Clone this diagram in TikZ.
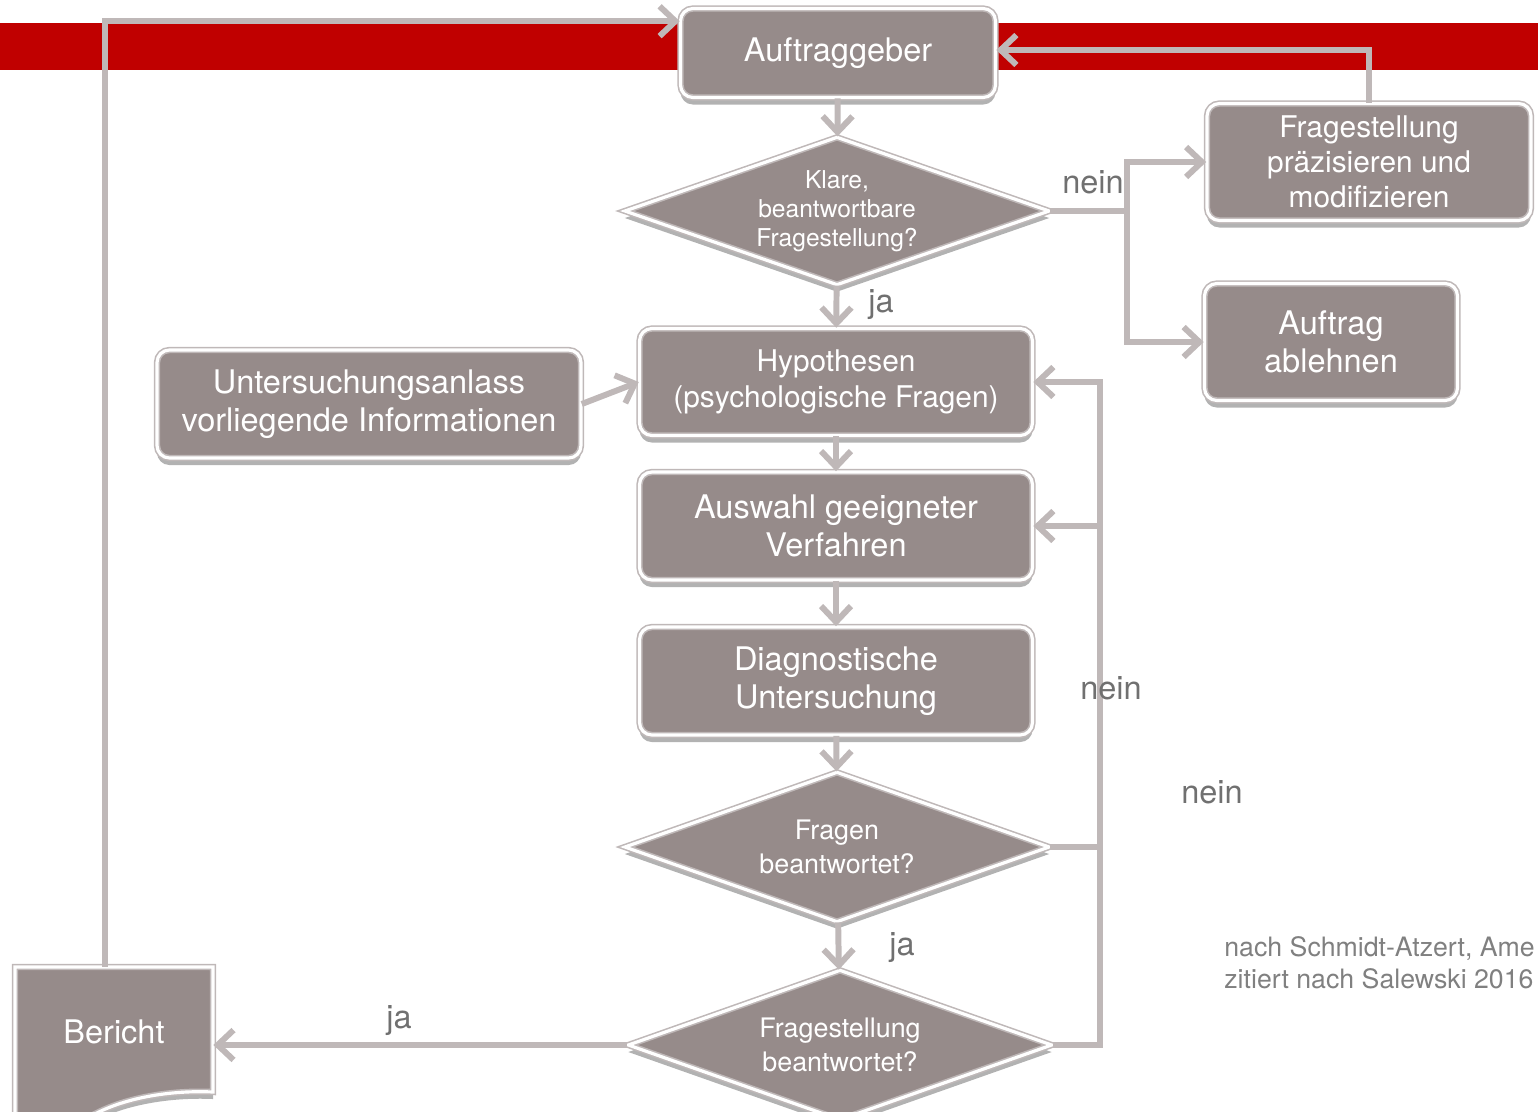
\documentclass[tikz,border=0pt]{standalone}
\usepackage{fontspec}
\setmainfont{TeX Gyre Heros}
\usetikzlibrary{shapes.geometric,arrows.meta,shadows}
\definecolor{barred}{RGB}{192,0,0}
\definecolor{boxfill}{RGB}{150,139,138}
\definecolor{linegray}{RGB}{191,184,184}
\definecolor{labelgray}{RGB}{112,112,112}
\definecolor{citegray}{RGB}{128,128,128}
\tikzset{
boxline/.style={
	draw=linegray, line width=0.9pt, double=white, double distance=1.8pt,
	fill=boxfill, drop shadow={shadow xshift=0pt, shadow yshift=-4pt,
	opacity=0.3, fill=black}},
box/.style={
	boxline, rounded corners=7pt, text=white, align=center, inner sep=2pt,
	font=\fontsize{18.5}{21.5}\selectfont},
decision/.style={box, diamond, aspect=2.87, rounded corners=0pt, inner sep=0pt},
flow/.style={draw=linegray, line width=3.4pt,
	-{Straight Barb[length=9pt,width=17pt]}},
lbl/.style={text=labelgray, inner sep=0pt, font=\fontsize{18.5}{21}\selectfont}
}

\begin{document}
\begin{tikzpicture}[x=0.02cm, y=-0.02cm]
	\useasboundingbox (0,0) rectangle (1538,1112);
	\fill[barred] (0,23) rectangle (1538,70);
	% Dokument unten links
	\draw[boxline] (15,967) -- (213,967) -- (213,1092)
		.. controls (170,1090) and (125,1098) .. (95,1114)
		-- (95,1130) -- (15,1130) -- cycle;
	\node[text=white, font=\fontsize{18.5}{21.5}\selectfont,
		minimum width=3.96cm, minimum height=2.6cm] (bericht) at (114,1032) {Bericht};

	\node[box, minimum width=6.3cm, minimum height=1.78cm] (auftrag) at (838,53) {Auftraggeber};
	\node[decision, minimum width=8.5cm, minimum height=2.96cm,
		font=\fontsize{14}{16.5}\selectfont] (klare) at (837,211) {Klare,\\beantwortbare\\Fragestellung?};
	\node[box, minimum width=6.48cm, minimum height=2.34cm,
		font=\fontsize{17}{19.8}\selectfont] (praez) at (1369,162) {Fragestellung\\präzisieren und\\modifizieren};
	\node[box, minimum width=5.06cm, minimum height=2.34cm] (ablehnen) at (1331,342) {Auftrag\\ablehnen};
	\node[box, minimum width=7.86cm, minimum height=2.14cm,
		font=\fontsize{17}{20.3}\selectfont] (hypo) at (836,382) {Hypothesen\\(psychologische Fragen)};
	\node[box, minimum width=8.48cm, minimum height=2.16cm] (anlass) at (369,404) {Untersuchungsanlass\\vorliegende Informationen};
	\node[box, minimum width=7.86cm, minimum height=2.16cm] (auswahl) at (836,526) {Auswahl geeigneter\\Verfahren};
	\node[box, minimum width=7.86cm, minimum height=2.16cm] (diag) at (836,681) {Diagnostische\\Untersuchung};
	\node[decision, minimum width=8.5cm, minimum height=3cm,
		font=\fontsize{15.3}{19}\selectfont] (fragen) at (837,847) {Fragen\\beantwortet?};
	\node[decision, minimum width=8.48cm, minimum height=3cm,
		font=\fontsize{15.3}{19}\selectfont] (fst) at (840,1045) {Fragestellung\\beantwortet?};

	\coordinate (nj) at (1127,211);
	\coordinate (r1) at (1100,847);
	\coordinate (r2) at (1100,1045);

	\draw[flow] (auftrag) -- (klare);
	\draw[flow] (klare.east) -- (nj) |- (praez.west);
	\draw[flow] (nj) |- (ablehnen.west);
	\draw[flow] (praez.north) |- ([yshift=0.06cm]auftrag.east);
	\draw[flow] (klare) -- (hypo);
	\draw[flow] (anlass.east) -- (hypo.west);
	\draw[flow] (hypo) -- (auswahl);
	\draw[flow] (auswahl) -- (diag);
	\draw[flow] (diag) -- (fragen);
	\draw[flow] (fragen) -- (fst);
	\draw[flow] (fragen.east) -- (r1) |- (auswahl.east);
	\draw[flow] (fst.east) -- (r2) |- (hypo.east);
	\draw[flow] (fst.west) -- (fst.west -| bericht.east);
	\draw[flow] ([xshift=-0.18cm]bericht.north) |- ([yshift=-0.27cm]auftrag.north west);

	\node[lbl] (nein1) at (1093,182) {nein};
	\node[lbl] (ja1) at (881,305) {ja};
	\node[lbl] (nein2) at (1111,688) {nein};
	\node[lbl] (nein3) at (1212,792) {nein};
	\node[lbl] (ja2) at (902,948) {ja};
	\node[lbl] (ja3) at (399,1021) {ja};
	\node[text=citegray, inner sep=0pt, anchor=west, align=left,
		font=\fontsize{15.2}{18}\selectfont] (quelle) at (1224,963)
		{nach Schmidt-Atzert, Ame\\zitiert nach Salewski 2016};
\end{tikzpicture}
\end{document}
